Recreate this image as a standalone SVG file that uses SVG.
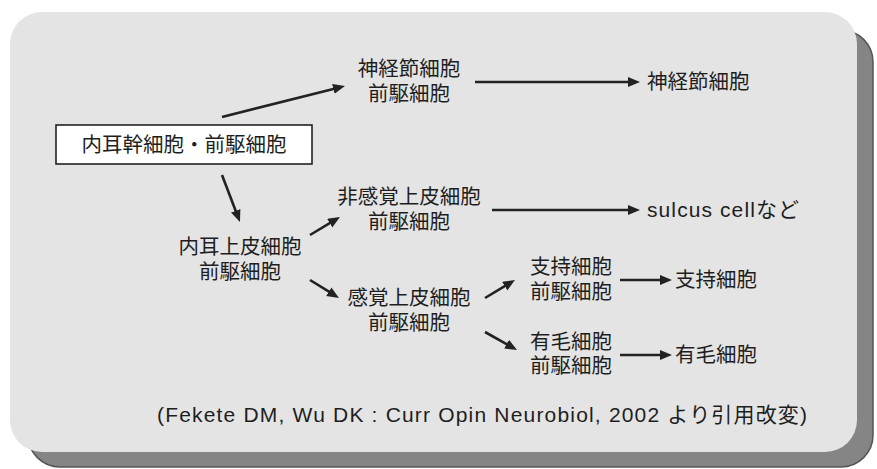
<svg xmlns="http://www.w3.org/2000/svg" width="877" height="469" viewBox="0 0 877 469">
<defs>
<style>
.lbl{font-family:"Noto Sans CJK JP","Noto Sans",sans-serif;font-size:20.5px;fill:#1e1e1e;text-anchor:middle}
.lft{font-family:"Noto Sans CJK JP","Noto Sans",sans-serif;font-size:20.5px;fill:#1e1e1e;text-anchor:start}
.lat{font-family:"Liberation Sans","Noto Sans CJK JP",sans-serif;font-size:21px;fill:#1e1e1e}
.arr{stroke:#222;stroke-width:2.6;fill:none;marker-end:url(#ah)}
</style>
<marker id="ah" markerUnits="userSpaceOnUse" markerWidth="14" markerHeight="12" refX="2" refY="5" orient="auto">
<path d="M0,0 L12,5 L0,10 z" fill="#222"/>
</marker>
</defs>
<g id="background">
<rect x="28" y="30" width="845" height="437" rx="32" ry="32" fill="#858585" stroke="#555" stroke-width="1.5"/>
<rect x="10" y="12" width="847" height="440" rx="32" ry="32" fill="#e4e4e4"/>
</g>
<g id="connectors">
<line class="arr" x1="222" y1="117" x2="335.3" y2="88.4"/>
<line class="arr" x1="222" y1="175" x2="236.4" y2="212.7"/>
<line class="arr" x1="310" y1="235" x2="331.4" y2="222.1"/>
<line class="arr" x1="310" y1="280" x2="330.5" y2="292.7"/>
<line class="arr" x1="475" y1="82" x2="630" y2="82"/>
<line class="arr" x1="492" y1="210" x2="630" y2="210"/>
<line class="arr" x1="485" y1="298" x2="506.4" y2="285.1"/>
<line class="arr" x1="485" y1="332" x2="508.3" y2="345.1"/>
<line class="arr" x1="620" y1="280" x2="662" y2="280"/>
<line class="arr" x1="620" y1="355" x2="662" y2="355"/>
</g>
<g id="stem">
<rect x="56" y="125" width="256" height="39" fill="#fff" stroke="#222" stroke-width="1.6"/>
<text class="lbl" x="184" y="152">内耳幹細胞・前駆細胞</text>
</g>
<g id="ganglion-prog">
<text class="lbl" x="409" y="76">神経節細胞<tspan x="409" y="101">前駆細胞</tspan></text>
</g>
<g id="ganglion">
<text class="lft" x="647" y="89">神経節細胞</text>
</g>
<g id="inner-ear-epi">
<text class="lbl" x="240" y="254">内耳上皮細胞<tspan x="240" y="279">前駆細胞</tspan></text>
</g>
<g id="nonsensory">
<text class="lbl" x="409" y="204">非感覚上皮細胞<tspan x="409" y="229">前駆細胞</tspan></text>
</g>
<g id="sulcus">
<text class="lat" x="647" y="217" textLength="152" lengthAdjust="spacing">sulcus cellなど</text>
</g>
<g id="sensory">
<text class="lbl" x="409" y="305">感覚上皮細胞<tspan x="409" y="330">前駆細胞</tspan></text>
</g>
<g id="support-prog">
<text class="lbl" x="571" y="274">支持細胞<tspan x="571" y="299">前駆細胞</tspan></text>
</g>
<g id="support">
<text class="lft" x="675" y="287">支持細胞</text>
</g>
<g id="hair-prog">
<text class="lbl" x="571" y="349">有毛細胞<tspan x="571" y="373">前駆細胞</tspan></text>
</g>
<g id="hair">
<text class="lft" x="675" y="362">有毛細胞</text>
</g>
<g id="citation">
<text class="lat" x="157" y="422" textLength="650" lengthAdjust="spacing">(Fekete DM, Wu DK : Curr Opin Neurobiol, 2002 より引用改変)</text>
</g>
</svg>
